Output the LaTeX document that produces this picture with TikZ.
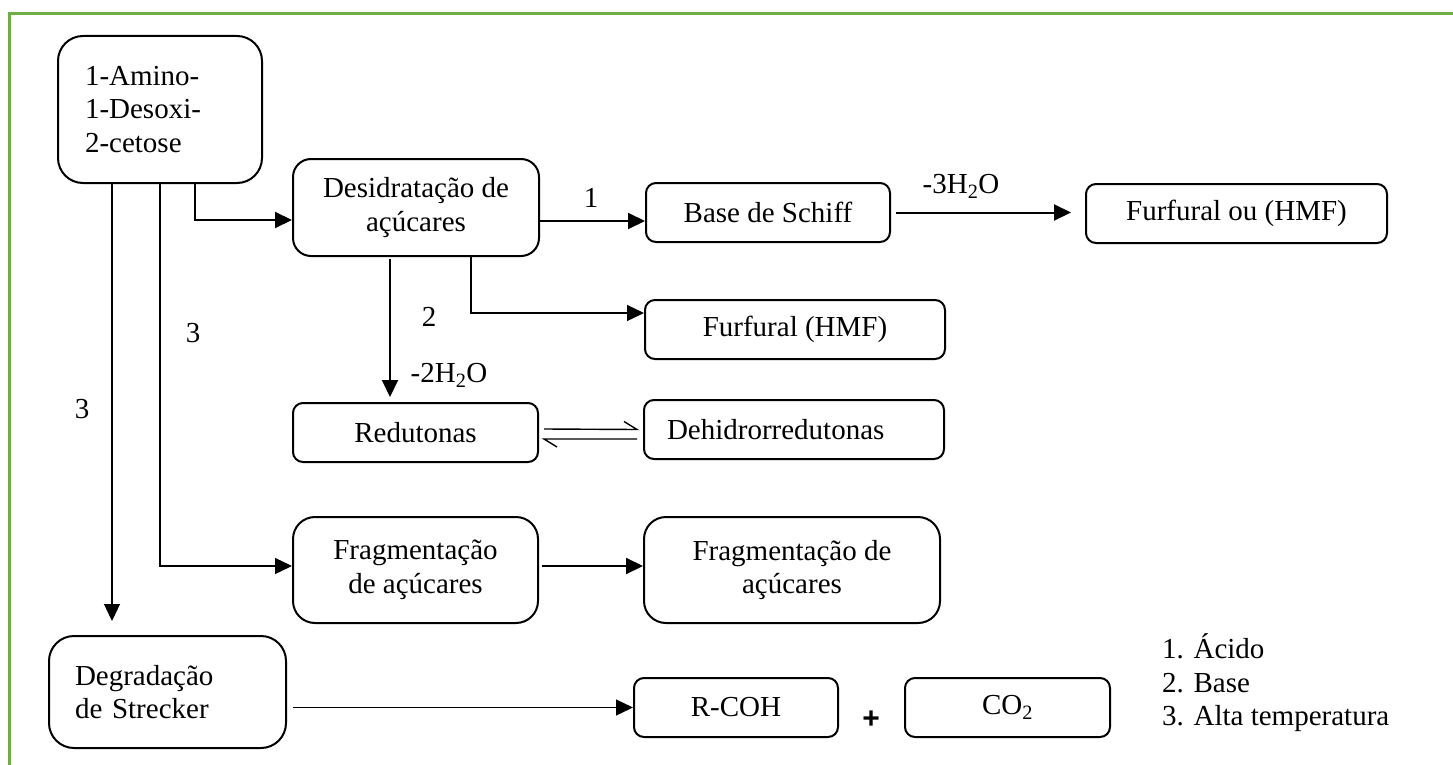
\documentclass[tikz,border=0pt]{standalone}
\usepackage{fontspec}
\setmainfont{Liberation Serif}
\newfontfamily\plusfont{Liberation Sans}
\usetikzlibrary{arrows.meta}
\definecolor{framegreen}{HTML}{70AD47}
\begin{document}
\begin{tikzpicture}[x=1pt,y=-1pt,
  every node/.style={font=\fontsize{29}{33.5}\selectfont, inner sep=0pt},
  box/.style={draw, line width=2pt, rounded corners=#1, align=center},
  box/.default=10pt,
  thickarrow/.style={line width=2pt, -{Triangle[length=17pt,width=16pt]}},
  thinarrow/.style={line width=1.3pt, -{Triangle[length=17pt,width=16pt]}},
  eqline/.style={line width=1.4pt}
]
\useasboundingbox (0,0) rectangle (1453,765);
% frame
\draw[framegreen, line width=3pt] (1453,14) -- (9,14) -- (9,765);

% nodes
\node[box=25pt, minimum width=204pt, minimum height=147pt, text width=150pt, inner xsep=27pt, align=left] (A) at (160,109.5) {1-Amino-\\1-Desoxi-\\2-cetose};
\node[box=18pt, minimum width=246pt, minimum height=97pt] (B) at (416,207.5) {Desidratação de\\açúcares};
\node[box, minimum width=244pt, minimum height=59pt] (C) at (768,212.5) {Base de Schiff};
\node[box, minimum width=301pt, minimum height=59pt] (D) at (1236.5,213.5) {Furfural ou (HMF)};
\node[box, minimum width=300pt, minimum height=59pt] (E) at (795,329.5) {Furfural (HMF)};
\node[box, minimum width=245pt, minimum height=59pt] (F) at (415.5,432.5) {Redutonas};
\node[box, minimum width=300pt, minimum height=59pt, text width=254pt, inner xsep=23pt, align=left] (G) at (794,429.5) {Dehidrorredutonas};
\node[box=22pt, minimum width=245pt, minimum height=106pt] (H) at (415.5,570) {Fragmentação\\de açúcares};
\node[box=22pt, minimum width=296pt, minimum height=106pt] (I) at (792,570) {Fragmentação de\\açúcares};
\node[box=25pt, minimum width=237pt, minimum height=112pt, text width=185pt, inner xsep=26pt, align=left] (S) at (167.5,692) {Degradação\\de Strecker};
\node[box, minimum width=204pt, minimum height=59pt] (R) at (736,707.5) {R-COH};
\node[box, minimum width=205pt, minimum height=59pt] (CO) at (1007.5,707.5) {CO\textsubscript{2}};
\node[font=\plusfont\bfseries\fontsize{30}{30}\selectfont] (plus) at (871,720) {+};

% helper coordinates
\coordinate (x112) at (112,0);
\coordinate (x195) at (195,0);
\coordinate (x390) at (390,0);
\coordinate (x471) at (471,0);
\coordinate (y220) at (0,220);
\coordinate (y221) at (0,221);
\coordinate (y313) at (0,313);
\coordinate (y566) at (0,566);

% connectors
\draw[thickarrow] (A.south -| x195) |- (B.west |- y220);
\draw[thickarrow] (B.east |- y221) -- (C.west |- y221);
\draw[thickarrow] ([xshift=5pt]C.east) -- ([xshift=-14pt]D.west |- C.east);
\draw[thinarrow] (B.south -| x471) |- (E.west |- y313);
\draw[thickarrow] ([yshift=-2pt]B.south -| x390) -- ([yshift=5pt]F.north -| x390);
% equilibrium harpoons
\coordinate (eqTR) at ([xshift=-6pt]G.west);
\coordinate (eqBL) at ([xshift=5pt,yshift=-6.5pt]F.east);
\draw[eqline] ([xshift=5pt,yshift=3.5pt]F.east) -- (eqTR) -- ++(-13,-8);
\draw[eqline] ([xshift=-6pt,yshift=-9.5pt]G.west) -- (eqBL) -- ++(13,8);
\draw[thinarrow] (A.south) |- (H.west |- y566);
\draw[thinarrow] (A.south -| x112) -- ([yshift=14pt]S.north -| x112);
\draw[thickarrow] ([xshift=3pt]H.east |- y566) -- (I.west |- y566);
\draw[thinarrow] ([xshift=6pt]S.east |- R.west) -- (R.west);

% labels
\node (l1) at (591,198) {1};
\node (l3h2o) at (961,186) {-3H\textsubscript{2}O};
\node (l2) at (429,317) {2};
\node (l2h2o) at (449,375) {-2H\textsubscript{2}O};
\node (l3a) at (193,333) {3};
\node (l3b) at (82,409) {3};
\node[align=left, anchor=west] (legend) at (1162,683) {1. Ácido\\2. Base\\3. Alta temperatura};
\end{tikzpicture}
\end{document}
